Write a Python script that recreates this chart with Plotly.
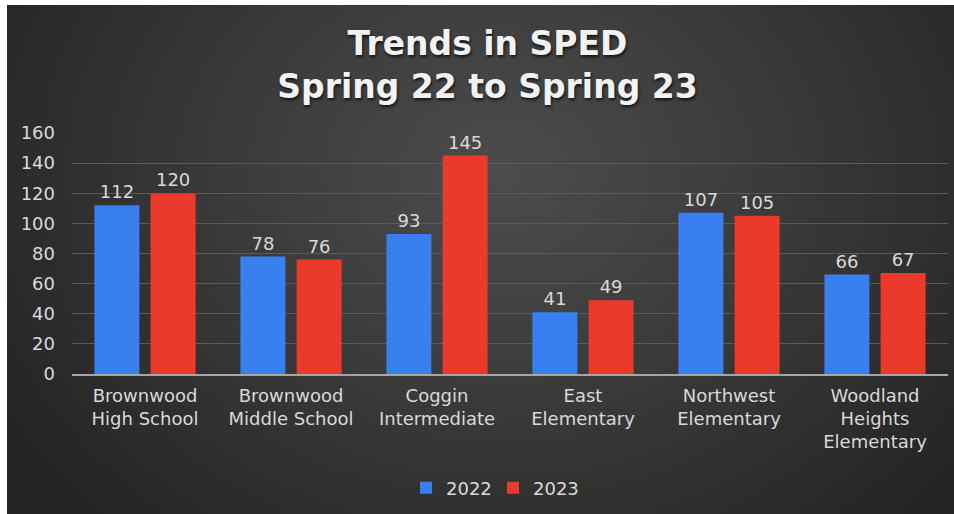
import base64, struct, zlib
import numpy as np
import plotly.graph_objects as go

categories = ["Brownwood<br>High School", "Brownwood<br>Middle School", "Coggin<br>Intermediate",
              "East<br>Elementary", "Northwest<br>Elementary", "Woodland<br>Heights<br>Elementary"]
values_2022 = [112, 78, 93, 41, 107, 66]
values_2023 = [120, 76, 145, 49, 105, 67]
y_ticks = [0, 20, 40, 60, 80, 100, 120, 140, 160]

W, H = 954, 514
ML, MR, MT, MB = 72, 6, 133, 140
PW, PH = W - ML - MR, H - MT - MB


def make_bg_png(w=240, h=128):
    yy, xx = np.mgrid[0:h, 0:w]
    cx, cy = 0.52 * w, 0.33 * h
    d = np.sqrt(((xx - cx) / (0.62 * w)) ** 2 + ((yy - cy) / (0.95 * h)) ** 2)
    d = np.clip(d, 0, 1)
    inner, outer = 76.0, 36.0
    v = inner + (outer - inner) * d ** 1.1
    v = np.clip(v, 0, 255).astype(np.uint8)
    img = np.stack([v, v, v], axis=-1)
    raw = b"".join(b"\x00" + img[r].tobytes() for r in range(h))

    def chunk(t, data):
        c = struct.pack(">I", len(data)) + t + data
        return c + struct.pack(">I", zlib.crc32(t + data) & 0xffffffff)

    png = b"\x89PNG\r\n\x1a\n" + chunk(b"IHDR", struct.pack(">IIBBBBB", w, h, 8, 2, 0, 0, 0)) \
        + chunk(b"IDAT", zlib.compress(raw, 9)) + chunk(b"IEND", b"")
    return "data:image/png;base64," + base64.b64encode(png).decode()


font = "DejaVu Sans, Liberation Sans, Arial, sans-serif"
label_color = "#d9d9d9"

fig = go.Figure()
fig.add_trace(go.Bar(
    x=categories, y=values_2022, name="2022",
    marker=dict(color="#3a7ff0", line=dict(width=0)),
    text=values_2022, textposition="outside", cliponaxis=False,
    textfont=dict(color=label_color, size=18, family=font),
))
fig.add_trace(go.Bar(
    x=categories, y=values_2023, name="2023",
    marker=dict(color="#ea3a2c", line=dict(width=0)),
    text=values_2023, textposition="outside", cliponaxis=False,
    textfont=dict(color=label_color, size=18, family=font),
))

x0 = (7 - ML) / PW
x1 = (W - ML) / PW
y_top = (H - MB - 5) / PH
y_bot = -MB / PH

fig.update_layout(
    width=W, height=H,
    margin=dict(l=ML, r=MR, t=MT, b=MB),
    paper_bgcolor="white",
    plot_bgcolor="rgba(0,0,0,0)",
    barmode="group", bargap=0.23, bargroupgap=0.2,
    font=dict(family=font, color=label_color, size=18),
    title=dict(
        text="Trends in SPED<br>Spring 22 to Spring 23",
        x=0.511, xanchor="center", xref="container",
        y=1 - 55 / H, yanchor="middle", yref="container",
        font=dict(family=font, size=33, color="#f2f2f2", weight="bold",
                  shadow="1px 2px 3px rgba(0,0,0,0.7)"),
    ),
    images=[dict(source=make_bg_png(), xref="paper", yref="paper",
                 x=x0, y=y_top, sizex=x1 - x0, sizey=y_top - y_bot,
                 xanchor="left", yanchor="top", sizing="stretch", layer="below")],
    legend=dict(orientation="h", x=(406 - ML) / PW, xanchor="left", y=(H - MB - 488) / PH, yanchor="middle",
                font=dict(size=18, color=label_color), bgcolor="rgba(0,0,0,0)",
                itemwidth=30, entrywidth=42, entrywidthmode="pixels", traceorder="normal"),
    showlegend=True,
)
fig.update_xaxes(showgrid=False, showline=True, linecolor="#a6a6a6", linewidth=2,
                 ticks="", tickfont=dict(size=18, color=label_color), fixedrange=True,
                 ticklabelstandoff=4)
fig.update_yaxes(range=[0, 160], tickvals=y_ticks, showgrid=True, gridcolor="#5a5a5a", gridwidth=1,
                 zeroline=False, showline=False, ticks="", ticklabelstandoff=16,
                 tickfont=dict(size=18, color=label_color), fixedrange=True)

fig.write_html("out.html")
